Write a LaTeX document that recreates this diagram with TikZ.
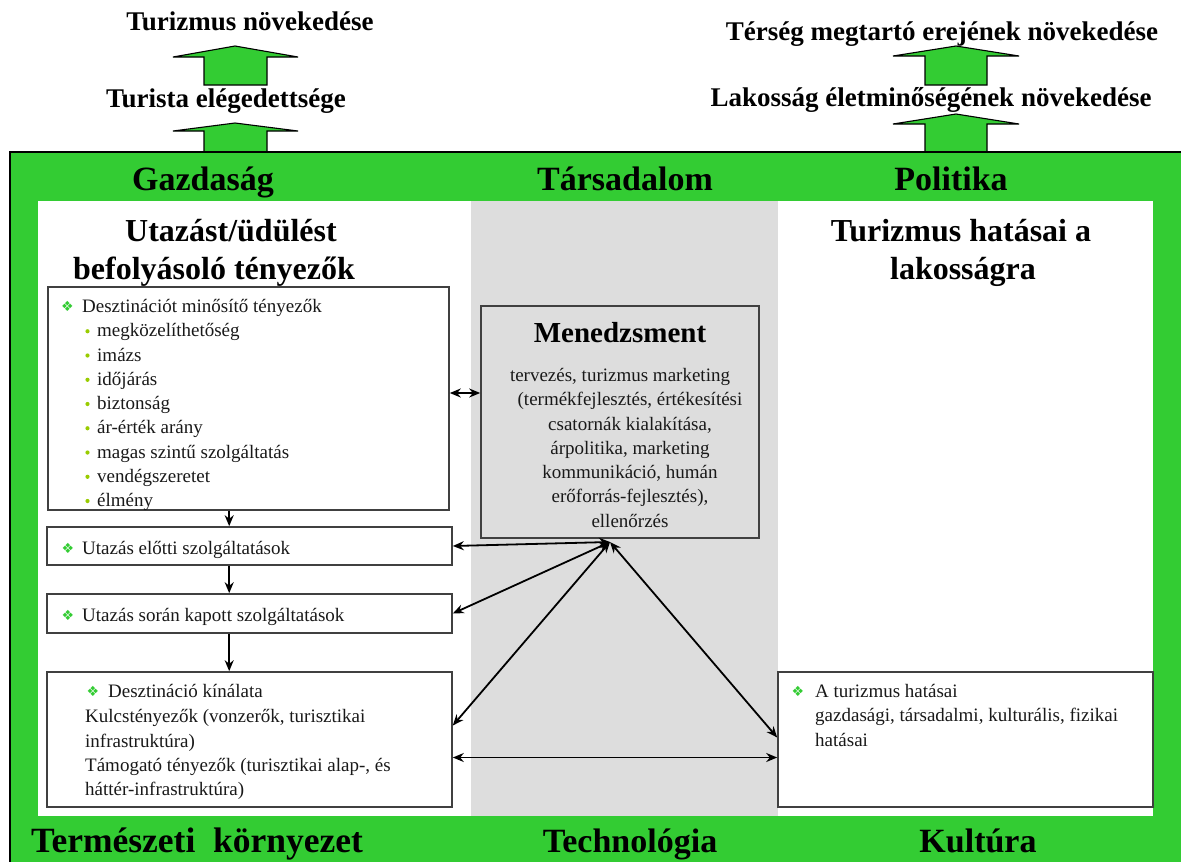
\documentclass[tikz,border=0pt]{standalone}
\usepackage{fontspec}
\setmainfont{Liberation Serif}
\newfontfamily\symfont{DejaVu Sans}
\usetikzlibrary{arrows.meta,calc}
\definecolor{frgreen}{RGB}{51,204,51}
\definecolor{colgray}{RGB}{221,221,221}
\definecolor{boxline}{RGB}{64,64,64}
\definecolor{bulgreen}{RGB}{153,204,0}
\definecolor{txtcol}{RGB}{25,25,25}
\begin{document}
\begin{tikzpicture}[x=1pt,y=-1pt,
  headst/.style={font=\bfseries\fontsize{27}{30}\selectfont, inner sep=0, anchor=base},
  bandst/.style={font=\bfseries\fontsize{34}{38}\selectfont, inner sep=0, anchor=base},
  titlest/.style={font=\bfseries\fontsize{32}{36}\selectfont, inner sep=0, anchor=base},
  txt/.style={font=\fontsize{19}{24}\selectfont, text=txtcol, inner sep=0, anchor=base west},
  ctxt/.style={font=\fontsize{19}{24}\selectfont, text=txtcol, inner sep=0, anchor=base},
  symst/.style={font=\symfont\fontsize{14}{14}\selectfont, text=frgreen, inner sep=0},
  boxst/.style={draw=boxline, line width=1.6pt, fill=white, inner sep=0},
  bigarrow/.style={draw=black, line width=1.1pt, fill=frgreen},
  conn/.style={line width=1.8pt, {Stealth[length=11pt,width=9pt]}-{Stealth[length=11pt,width=9pt]}},
  downst/.style={line width=1.8pt, -{Stealth[length=11pt,width=9pt]}},
]
\useasboundingbox (0,0) rectangle (1181,862);
\fill[white] (0,0) rectangle (1181,862);

% block arrows
\draw[bigarrow] (204,85) -- (204,57) -- (173,57) -- (235,46) -- (298,57) -- (267,57) -- (267,85) -- cycle;
\draw[bigarrow] (204,152) -- (204,131) -- (173,131) -- (235,123) -- (298,131) -- (267,131) -- (267,152) -- cycle;
\draw[bigarrow] (925,85) -- (925,56) -- (893,56) -- (956,46) -- (1019,56) -- (987,56) -- (987,85) -- cycle;
\draw[bigarrow] (925,152) -- (925,124) -- (893,124) -- (956,114) -- (1019,124) -- (987,124) -- (987,152) -- cycle;

% top texts
\node[headst] (t1) at (250,30.5) {Turizmus növekedése};
\node[headst] (t2) at (226,107) {Turista elégedettsége};
\node[headst] (t3) at (942,40.5) {Térség megtartó erejének növekedése};
\node[headst] (t4) at (931,106.5) {Lakosság életminőségének növekedése};

% frame
\fill[frgreen] (10,152) rectangle (1181,862);
\draw[line width=1.8pt] (1181,152) -- (10,152) -- (10,862);
\fill[white] (38,201) rectangle (1153,816);
\fill[colgray] (471,201) rectangle (778,816);

% band labels
\node[bandst] (g1) at (203,190) {Gazdaság};
\node[bandst] (g2) at (625,190) {Társadalom};
\node[bandst] (g3) at (951,190) {Politika};
\node[bandst, font=\bfseries\fontsize{35.5}{38}\selectfont] (g4) at (197,852.5) {Természeti\ \ környezet};
\node[bandst] (g5) at (630,852) {Technológia};
\node[bandst] (g6) at (978,852.5) {Kultúra};

% titles
\node[titlest] (h1) at (231,241) {Utazást/üdülést};
\node[titlest] (h2) at (214,279) {befolyásoló tényezők};
\node[titlest] (h3) at (961,241) {Turizmus hatásai a};
\node[titlest] (h4) at (963,279) {lakosságra};

% boxes
\node[boxst, minimum width=401, minimum height=223] (box1) at (248.5,398.5) {};
\node[boxst, minimum width=405, minimum height=38] (box2) at (249.5,546) {};
\node[boxst, minimum width=405, minimum height=39] (box3) at (249.5,613.5) {};
\node[boxst, minimum width=405, minimum height=135] (box4) at (249.5,739.5) {};
\node[boxst, minimum width=375, minimum height=135] (rbox) at (965.5,739.5) {};
\node[draw=boxline, line width=1.6pt, fill=colgray, minimum width=278, minimum height=232, inner sep=0] (mgmt) at (620,422) {};

% box1 text
\node[symst] (s1) at (67.5,306.5) {❖};
\node[txt] (d1) at (82,312.5) {Desztinációt minősítő tényezők};
\foreach \t [count=\i] in {megközelíthetőség, imázs, időjárás, biztonság, ár-érték arány, magas szintű szolgáltatás, vendégszeretet, élmény}{
  \fill[bulgreen] (87.5,{312.5+24.25*\i-5.5}) circle (2.1);
  \node[txt] (it\i) at (97,{312.5+24.25*\i}) {\t};
}

% box2, box3
\node[symst] (s2) at (68,548) {❖};
\node[txt] (d2) at (82,554) {Utazás előtti szolgáltatások};
\node[symst] (s3) at (68,615) {❖};
\node[txt] (d3) at (82,621) {Utazás során kapott szolgáltatások};

% box4
\node[symst] (s4) at (93,691) {❖};
\node[txt] (d4) at (108,697) {Desztináció kínálata};
\node[txt] (d4a) at (85,722.5) {Kulcstényezők (vonzerők, turisztikai};
\node[txt] (d4b) at (85,747) {infrastruktúra)};
\node[txt] (d4c) at (85,771.5) {Támogató tényezők (turisztikai alap-, és};
\node[txt] (d4d) at (85,795.5) {háttér-infrastruktúra)};

% right box
\node[symst] (s5) at (798,691) {❖};
\node[txt] (r1) at (815,697) {A turizmus hatásai};
\node[txt] (r2) at (815,721.5) {gazdasági, társadalmi, kulturális, fizikai};
\node[txt] (r3) at (815,746) {hatásai};

% management text
\node[font=\bfseries\fontsize{29}{32}\selectfont, inner sep=0, anchor=base] (mt) at (620,342.5) {Menedzsment};
\foreach \t/\cx [count=\i] in {{tervezés, turizmus marketing}/620, {(termékfejlesztés, értékesítési}/630, {csatornák kialakítása,}/630, {árpolitika, marketing}/630, {kommunikáció, humán}/630, {erőforrás-fejlesztés),}/630, {ellenőrzés}/630}{
  \node[ctxt] (m\i) at (\cx,{381.5+24.27*(\i-1)}) {\t};
}

% connectors
\coordinate (hub) at (610,542);
\coordinate (a1) at ($(box1.east)+(0,-5.5)$);
\draw[conn] (a1) -- (a1 -| mgmt.west);
\draw[downst] ($(box1.south west)+(182,0)$) -- ($(box2.north west)+(183,0)$);
\draw[downst] ($(box2.south west)+(183,0)$) -- ($(box3.north west)+(183,0)$);
\draw[downst] ($(box3.south west)+(183,0)$) -- ($(box4.north west)+(183,0)$);
\draw[conn] (box2.east) -- (hub);
\draw[conn] (box3.east) -- (hub);
\draw[conn] ($(box4.east)+(0,-14)$) -- (hub);
\draw[conn] ($(rbox.west)+(0,-2)$) -- (hub);
\draw[conn] ($(box4.east)+(0,18)$) -- ($(rbox.west)+(0,18)$);
\end{tikzpicture}
\end{document}
